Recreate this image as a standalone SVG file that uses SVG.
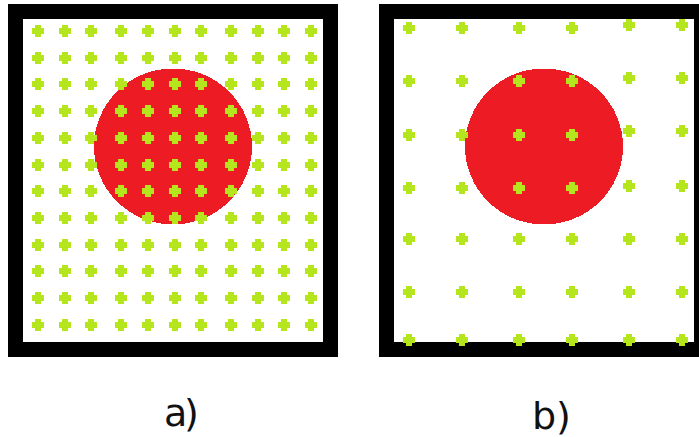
<svg xmlns="http://www.w3.org/2000/svg" xmlns:xlink="http://www.w3.org/1999/xlink" width="699" height="437" viewBox="0 0 699 437">
  <style>
    .frame { fill: #000000; }
    .inner { fill: #FFFFFF; }
    .disc { fill: #ED1C24; shape-rendering: crispEdges; }
    .dot { fill: #B5E61D; shape-rendering: crispEdges; }
    .label { font-family: "DejaVu Sans", Verdana, sans-serif; font-size: 38px; fill: #111111; }
  </style>
  <defs>
    <path id="dot" class="dot" d="M-3,-6h6v3h3v6h-3v3h-6v-3h-3v-6h3z"/>
  </defs>
  <rect width="699" height="437" fill="#FFFFFF"/>

  <g id="panel-a">
    <rect class="frame" x="8" y="4" width="330" height="353"/>
    <rect class="inner" x="23" y="19" width="300" height="323"/>
    <ellipse class="disc" cx="173" cy="146.5" rx="79" ry="78"/>
    <g id="grid-a">
      <use xlink:href="#dot" x="38" y="31"/><use xlink:href="#dot" x="65" y="31"/><use xlink:href="#dot" x="91" y="31"/><use xlink:href="#dot" x="121" y="31"/><use xlink:href="#dot" x="148" y="31"/><use xlink:href="#dot" x="175" y="31"/><use xlink:href="#dot" x="201" y="31"/><use xlink:href="#dot" x="231" y="31"/><use xlink:href="#dot" x="258" y="31"/><use xlink:href="#dot" x="284" y="31"/><use xlink:href="#dot" x="311" y="31"/>
      <use xlink:href="#dot" x="38" y="58"/><use xlink:href="#dot" x="65" y="58"/><use xlink:href="#dot" x="91" y="58"/><use xlink:href="#dot" x="121" y="58"/><use xlink:href="#dot" x="148" y="58"/><use xlink:href="#dot" x="175" y="58"/><use xlink:href="#dot" x="201" y="58"/><use xlink:href="#dot" x="231" y="58"/><use xlink:href="#dot" x="258" y="58"/><use xlink:href="#dot" x="284" y="58"/><use xlink:href="#dot" x="311" y="58"/>
      <use xlink:href="#dot" x="38" y="84"/><use xlink:href="#dot" x="65" y="84"/><use xlink:href="#dot" x="91" y="84"/><use xlink:href="#dot" x="121" y="84"/><use xlink:href="#dot" x="148" y="84"/><use xlink:href="#dot" x="175" y="84"/><use xlink:href="#dot" x="201" y="84"/><use xlink:href="#dot" x="231" y="84"/><use xlink:href="#dot" x="258" y="84"/><use xlink:href="#dot" x="284" y="84"/><use xlink:href="#dot" x="311" y="84"/>
      <use xlink:href="#dot" x="38" y="111"/><use xlink:href="#dot" x="65" y="111"/><use xlink:href="#dot" x="91" y="111"/><use xlink:href="#dot" x="121" y="111"/><use xlink:href="#dot" x="148" y="111"/><use xlink:href="#dot" x="175" y="111"/><use xlink:href="#dot" x="201" y="111"/><use xlink:href="#dot" x="231" y="111"/><use xlink:href="#dot" x="258" y="111"/><use xlink:href="#dot" x="284" y="111"/><use xlink:href="#dot" x="311" y="111"/>
      <use xlink:href="#dot" x="38" y="138"/><use xlink:href="#dot" x="65" y="138"/><use xlink:href="#dot" x="91" y="138"/><use xlink:href="#dot" x="121" y="138"/><use xlink:href="#dot" x="148" y="138"/><use xlink:href="#dot" x="175" y="138"/><use xlink:href="#dot" x="201" y="138"/><use xlink:href="#dot" x="231" y="138"/><use xlink:href="#dot" x="258" y="138"/><use xlink:href="#dot" x="284" y="138"/><use xlink:href="#dot" x="311" y="138"/>
      <use xlink:href="#dot" x="38" y="165"/><use xlink:href="#dot" x="65" y="165"/><use xlink:href="#dot" x="91" y="165"/><use xlink:href="#dot" x="121" y="165"/><use xlink:href="#dot" x="148" y="165"/><use xlink:href="#dot" x="175" y="165"/><use xlink:href="#dot" x="201" y="165"/><use xlink:href="#dot" x="231" y="165"/><use xlink:href="#dot" x="258" y="165"/><use xlink:href="#dot" x="284" y="165"/><use xlink:href="#dot" x="311" y="165"/>
      <use xlink:href="#dot" x="38" y="191"/><use xlink:href="#dot" x="65" y="191"/><use xlink:href="#dot" x="91" y="191"/><use xlink:href="#dot" x="121" y="191"/><use xlink:href="#dot" x="148" y="191"/><use xlink:href="#dot" x="175" y="191"/><use xlink:href="#dot" x="201" y="191"/><use xlink:href="#dot" x="231" y="191"/><use xlink:href="#dot" x="258" y="191"/><use xlink:href="#dot" x="284" y="191"/><use xlink:href="#dot" x="311" y="191"/>
      <use xlink:href="#dot" x="38" y="218"/><use xlink:href="#dot" x="65" y="218"/><use xlink:href="#dot" x="91" y="218"/><use xlink:href="#dot" x="121" y="218"/><use xlink:href="#dot" x="148" y="218"/><use xlink:href="#dot" x="175" y="218"/><use xlink:href="#dot" x="201" y="218"/><use xlink:href="#dot" x="231" y="218"/><use xlink:href="#dot" x="258" y="218"/><use xlink:href="#dot" x="284" y="218"/><use xlink:href="#dot" x="311" y="218"/>
      <use xlink:href="#dot" x="38" y="245"/><use xlink:href="#dot" x="65" y="245"/><use xlink:href="#dot" x="91" y="245"/><use xlink:href="#dot" x="121" y="245"/><use xlink:href="#dot" x="148" y="245"/><use xlink:href="#dot" x="175" y="245"/><use xlink:href="#dot" x="201" y="245"/><use xlink:href="#dot" x="231" y="245"/><use xlink:href="#dot" x="258" y="245"/><use xlink:href="#dot" x="284" y="245"/><use xlink:href="#dot" x="311" y="245"/>
      <use xlink:href="#dot" x="38" y="271"/><use xlink:href="#dot" x="65" y="271"/><use xlink:href="#dot" x="91" y="271"/><use xlink:href="#dot" x="121" y="271"/><use xlink:href="#dot" x="148" y="271"/><use xlink:href="#dot" x="175" y="271"/><use xlink:href="#dot" x="201" y="271"/><use xlink:href="#dot" x="231" y="271"/><use xlink:href="#dot" x="258" y="271"/><use xlink:href="#dot" x="284" y="271"/><use xlink:href="#dot" x="311" y="271"/>
      <use xlink:href="#dot" x="38" y="298"/><use xlink:href="#dot" x="65" y="298"/><use xlink:href="#dot" x="91" y="298"/><use xlink:href="#dot" x="121" y="298"/><use xlink:href="#dot" x="148" y="298"/><use xlink:href="#dot" x="175" y="298"/><use xlink:href="#dot" x="201" y="298"/><use xlink:href="#dot" x="231" y="298"/><use xlink:href="#dot" x="258" y="298"/><use xlink:href="#dot" x="284" y="298"/><use xlink:href="#dot" x="311" y="298"/>
      <use xlink:href="#dot" x="38" y="325"/><use xlink:href="#dot" x="65" y="325"/><use xlink:href="#dot" x="91" y="325"/><use xlink:href="#dot" x="121" y="325"/><use xlink:href="#dot" x="148" y="325"/><use xlink:href="#dot" x="175" y="325"/><use xlink:href="#dot" x="201" y="325"/><use xlink:href="#dot" x="231" y="325"/><use xlink:href="#dot" x="258" y="325"/><use xlink:href="#dot" x="284" y="325"/><use xlink:href="#dot" x="311" y="325"/>
    </g>
    <text class="label" x="164 184" y="426">a)</text>
  </g>

  <g id="panel-b">
    <rect class="frame" x="379" y="4" width="330" height="353"/>
    <rect class="inner" x="394" y="19" width="300" height="323"/>
    <ellipse class="disc" cx="544" cy="146.5" rx="79" ry="78"/>
    <g id="grid-b">
      <use xlink:href="#dot" x="409" y="28"/><use xlink:href="#dot" x="462" y="28"/><use xlink:href="#dot" x="519" y="28"/><use xlink:href="#dot" x="572" y="28"/><use xlink:href="#dot" x="629" y="25"/><use xlink:href="#dot" x="682" y="25"/>
      <use xlink:href="#dot" x="409" y="81"/><use xlink:href="#dot" x="462" y="81"/><use xlink:href="#dot" x="519" y="81"/><use xlink:href="#dot" x="572" y="81"/><use xlink:href="#dot" x="629" y="78"/><use xlink:href="#dot" x="682" y="78"/>
      <use xlink:href="#dot" x="409" y="135"/><use xlink:href="#dot" x="462" y="135"/><use xlink:href="#dot" x="519" y="135"/><use xlink:href="#dot" x="572" y="135"/><use xlink:href="#dot" x="629" y="131"/><use xlink:href="#dot" x="682" y="131"/>
      <use xlink:href="#dot" x="409" y="188"/><use xlink:href="#dot" x="462" y="188"/><use xlink:href="#dot" x="519" y="188"/><use xlink:href="#dot" x="572" y="188"/><use xlink:href="#dot" x="629" y="186"/><use xlink:href="#dot" x="682" y="186"/>
      <use xlink:href="#dot" x="409" y="239"/><use xlink:href="#dot" x="462" y="239"/><use xlink:href="#dot" x="519" y="239"/><use xlink:href="#dot" x="572" y="239"/><use xlink:href="#dot" x="629" y="239"/><use xlink:href="#dot" x="682" y="239"/>
      <use xlink:href="#dot" x="409" y="292"/><use xlink:href="#dot" x="462" y="292"/><use xlink:href="#dot" x="519" y="292"/><use xlink:href="#dot" x="572" y="292"/><use xlink:href="#dot" x="629" y="292"/><use xlink:href="#dot" x="682" y="292"/>
      <use xlink:href="#dot" x="409" y="340"/><use xlink:href="#dot" x="462" y="340"/><use xlink:href="#dot" x="519" y="340"/><use xlink:href="#dot" x="572" y="340"/><use xlink:href="#dot" x="629" y="340"/><use xlink:href="#dot" x="682" y="340"/>
    </g>
    <text class="label" x="532 556" y="429">b)</text>
  </g>
</svg>
